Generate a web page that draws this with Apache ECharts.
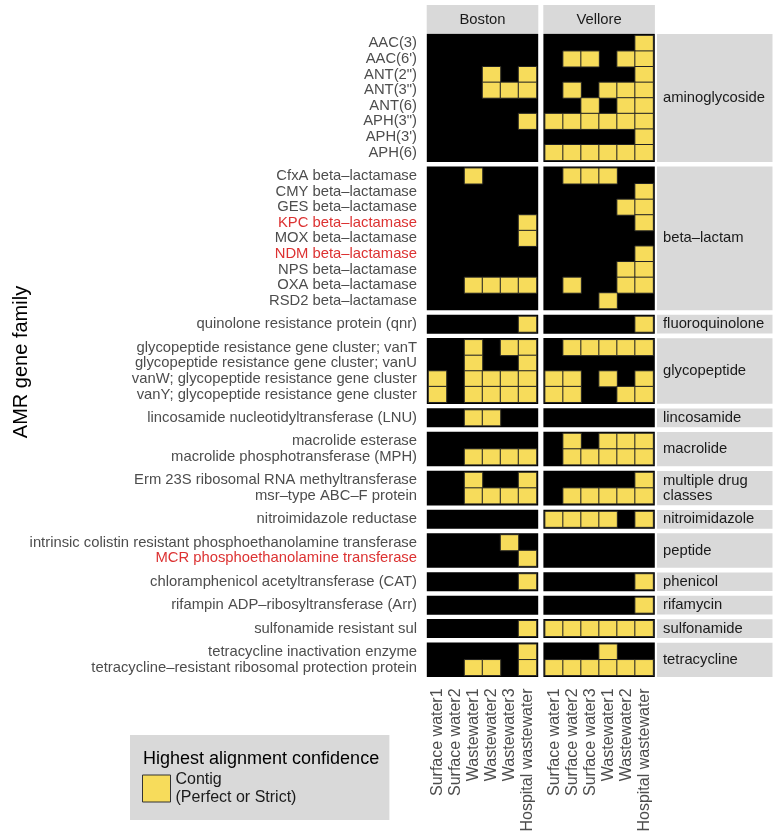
<!DOCTYPE html>
<html><head><meta charset="utf-8">
<script src="https://cdn.jsdelivr.net/npm/echarts@6/dist/echarts.min.js"></script>
<style>html,body{margin:0;padding:0;background:#fff}#c{width:779px;height:839px}</style>
</head><body><div id="c"></div>
<script>
// ---------------- data ----------------
const cities = ['Boston', 'Vellore'];
const sitesBoston = ['Surface water1', 'Surface water2', 'Wastewater1', 'Wastewater2', 'Wastewater3', 'Hospital wastewater'];
const sitesVellore = ['Surface water1', 'Surface water2', 'Surface water3', 'Wastewater1', 'Wastewater2', 'Hospital wastewater'];
const families = ['aminoglycoside', 'beta–lactam', 'fluoroquinolone', 'glycopeptide', 'lincosamide', 'macrolide',
  'multiple drug\nclasses', 'nitroimidazole', 'peptide', 'phenicol', 'rifamycin', 'sulfonamide', 'tetracycline'];
const familySizes = [8, 9, 1, 4, 1, 2, 2, 1, 2, 1, 1, 1, 2];
const genes = [
  'AAC(3)', "AAC(6')", 'ANT(2")', 'ANT(3")', 'ANT(6)', 'APH(3")', "APH(3')", 'APH(6)',
  'CfxA beta–lactamase', 'CMY beta–lactamase', 'GES beta–lactamase', 'KPC beta–lactamase', 'MOX beta–lactamase',
  'NDM beta–lactamase', 'NPS beta–lactamase', 'OXA beta–lactamase', 'RSD2 beta–lactamase',
  'quinolone resistance protein (qnr)',
  'glycopeptide resistance gene cluster; vanT', 'glycopeptide resistance gene cluster; vanU',
  'vanW; glycopeptide resistance gene cluster', 'vanY; glycopeptide resistance gene cluster',
  'lincosamide nucleotidyltransferase (LNU)',
  'macrolide esterase', 'macrolide phosphotransferase (MPH)',
  'Erm 23S ribosomal RNA methyltransferase', 'msr–type ABC–F protein',
  'nitroimidazole reductase',
  'intrinsic colistin resistant phosphoethanolamine transferase', 'MCR phosphoethanolamine transferase',
  'chloramphenicol acetyltransferase (CAT)',
  'rifampin ADP–ribosyltransferase (Arr)',
  'sulfonamide resistant sul',
  'tetracycline inactivation enzyme', 'tetracycline–resistant ribosomal protection protein'
];
const redGenes = ['KPC beta–lactamase', 'NDM beta–lactamase', 'MCR phosphoethanolamine transferase'];
// 1 = contig hit (Perfect or Strict), columns follow the site arrays
const boston = [
  [0,0,0,0,0,0],[0,0,0,0,0,0],[0,0,0,1,0,1],[0,0,0,1,1,1],[0,0,0,0,0,0],[0,0,0,0,0,1],[0,0,0,0,0,0],[0,0,0,0,0,0],
  [0,0,1,0,0,0],[0,0,0,0,0,0],[0,0,0,0,0,0],[0,0,0,0,0,1],[0,0,0,0,0,1],[0,0,0,0,0,0],[0,0,0,0,0,0],[0,0,1,1,1,1],[0,0,0,0,0,0],
  [0,0,0,0,0,1],
  [0,0,1,0,1,1],[0,0,1,0,0,1],[1,0,1,1,1,1],[1,0,1,1,1,1],
  [0,0,1,1,0,0],
  [0,0,0,0,0,0],[0,0,1,1,1,1],
  [0,0,1,0,0,1],[0,0,1,1,1,1],
  [0,0,0,0,0,0],
  [0,0,0,0,1,0],[0,0,0,0,0,1],
  [0,0,0,0,0,1],
  [0,0,0,0,0,0],
  [0,0,0,0,0,1],
  [0,0,0,0,0,1],[0,0,1,1,0,1]
];
const vellore = [
  [0,0,0,0,0,1],[0,1,1,0,1,1],[0,0,0,0,0,1],[0,1,0,1,1,1],[0,0,1,0,1,1],[1,1,1,1,1,1],[0,0,0,0,0,1],[1,1,1,1,1,1],
  [0,1,1,1,0,0],[0,0,0,0,0,1],[0,0,0,0,1,1],[0,0,0,0,0,1],[0,0,0,0,0,0],[0,0,0,0,0,1],[0,0,0,0,1,1],[0,1,0,0,1,1],[0,0,0,1,0,0],
  [0,0,0,0,0,1],
  [0,1,1,1,1,1],[0,0,0,0,0,0],[1,1,0,1,0,1],[1,1,0,0,1,1],
  [0,0,0,0,0,0],
  [0,1,0,1,1,1],[0,1,1,1,1,1],
  [0,0,0,0,0,1],[0,1,1,1,1,1],
  [1,1,1,1,0,1],
  [0,0,0,0,0,0],[0,0,0,0,0,0],
  [0,0,0,0,0,1],
  [0,0,0,0,0,1],
  [1,1,1,1,1,1],
  [0,0,0,1,0,0],[1,1,1,1,1,1]
];
const legendTitle = 'Highest alignment confidence';
const legendLabel = 'Contig\n(Perfect or Strict)';
const yTitle = 'AMR gene family';

// ---------------- layout / style ----------------
const FONT = '"Liberation Sans", Arial, Helvetica, sans-serif';
const PANEL_X = [426.7, 543.3];
const CU = 18.0, RU = 15.6, GAP = 4.7, TOP = 34;
const STRIP_X = 657, STRIP_W = 115.5;
const YELLOW = '#F7DC5B', STRIP_BG = '#d9d9d9', GREY_TXT = '#4d4d4d', RED_TXT = '#dc3232';
const mats = [boston, vellore];
const siteLists = [sitesBoston, sitesVellore];

const grids = [], xAxes = [], yAxes = [], series = [], graphics = [];
let start = 0, y = TOP;
families.forEach((fam, f) => {
  const n = familySizes[f];
  const rows = genes.slice(start, start + n);
  const ph = (n + 0.2) * RU;
  for (let p = 0; p < 2; p++) {
    const gi = grids.length;
    grids.push({
      left: PANEL_X[p] + 0.1 * CU, top: y + 0.1 * RU, width: 6 * CU, height: n * RU,
      show: true, backgroundColor: '#000', borderColor: '#000', borderWidth: 3.4
    });
    xAxes.push({
      type: 'category', gridIndex: gi, data: siteLists[p],
      axisLine: { show: false }, axisTick: { show: false }, splitLine: { show: false },
      axisLabel: { show: f === families.length - 1, rotate: 90, interval: 0, margin: 13,
        fontSize: 16, color: GREY_TXT, fontFamily: FONT }
    });
    yAxes.push({
      type: 'category', gridIndex: gi, data: rows, inverse: true,
      axisLine: { show: false }, axisTick: { show: false }, splitLine: { show: false },
      axisLabel: {
        show: p === 0, interval: 0, margin: 11.5, fontSize: 14.8, color: GREY_TXT, fontFamily: FONT,
        formatter: v => redGenes.includes(v) ? '{r|' + v + '}' : v,
        rich: { r: { color: RED_TXT, fontSize: 14.8, fontFamily: FONT } }
      }
    });
    const data = [];
    rows.forEach((g, r) => mats[p][start + r].forEach((v, c) => { if (v) data.push([c, r, v]); }));
    series.push({
      type: 'heatmap', name: legendLabel, xAxisIndex: gi, yAxisIndex: gi, data,
      itemStyle: { color: YELLOW, borderColor: '#222', borderWidth: 1 },
      emphasis: { disabled: true }, silent: true
    });
  }
  graphics.push({ type: 'rect', shape: { x: STRIP_X, y: y, width: STRIP_W, height: ph }, style: { fill: STRIP_BG }, silent: true });
  graphics.push({ type: 'text', x: STRIP_X + 6, y: y + ph / 2, silent: true,
    style: { text: fam, fill: '#1a1a1a', fontSize: 14.8, fontFamily: FONT, lineHeight: 15,
      textAlign: 'left', textVerticalAlign: 'middle' } });
  start += n;
  y += ph + GAP;
});

cities.forEach((c, p) => {
  const w = 6.2 * CU;
  graphics.push({ type: 'rect', shape: { x: PANEL_X[p], y: 5, width: w, height: 28 }, style: { fill: STRIP_BG }, silent: true });
  graphics.push({ type: 'text', x: PANEL_X[p] + w / 2, y: 19.5, silent: true,
    style: { text: c, fill: '#1a1a1a', fontSize: 14.8, fontFamily: FONT, textAlign: 'center', textVerticalAlign: 'middle' } });
});
graphics.push({ type: 'text', x: 21, y: 362, rotation: Math.PI / 2, silent: true,
  style: { text: yTitle, fill: '#000', fontSize: 20, fontFamily: FONT, textAlign: 'center', textVerticalAlign: 'middle' } });
graphics.push({ type: 'text', x: 143, y: 759, silent: true, z: 100,
  style: { text: legendTitle, fill: '#000', fontSize: 18, fontFamily: FONT, textAlign: 'left', textVerticalAlign: 'middle' } });

const chart = echarts.init(document.getElementById('c'), null, { renderer: 'canvas' });
chart.setOption({
  animation: false,
  backgroundColor: '#fff',
  grid: grids, xAxis: xAxes, yAxis: yAxes, series: series,
  legend: {
    data: [legendLabel], left: 130, top: 735, orient: 'vertical', icon: 'rect',
    padding: [35.5, 93, 13.5, 12], backgroundColor: STRIP_BG, itemWidth: 28, itemHeight: 27,
    selectedMode: false,
    textStyle: { fontSize: 16, lineHeight: 18, color: '#1a1a1a', fontFamily: FONT },
    itemStyle: { color: YELLOW, borderColor: '#333', borderWidth: 1 }
  },
  graphic: graphics
});
</script>
</body></html>
